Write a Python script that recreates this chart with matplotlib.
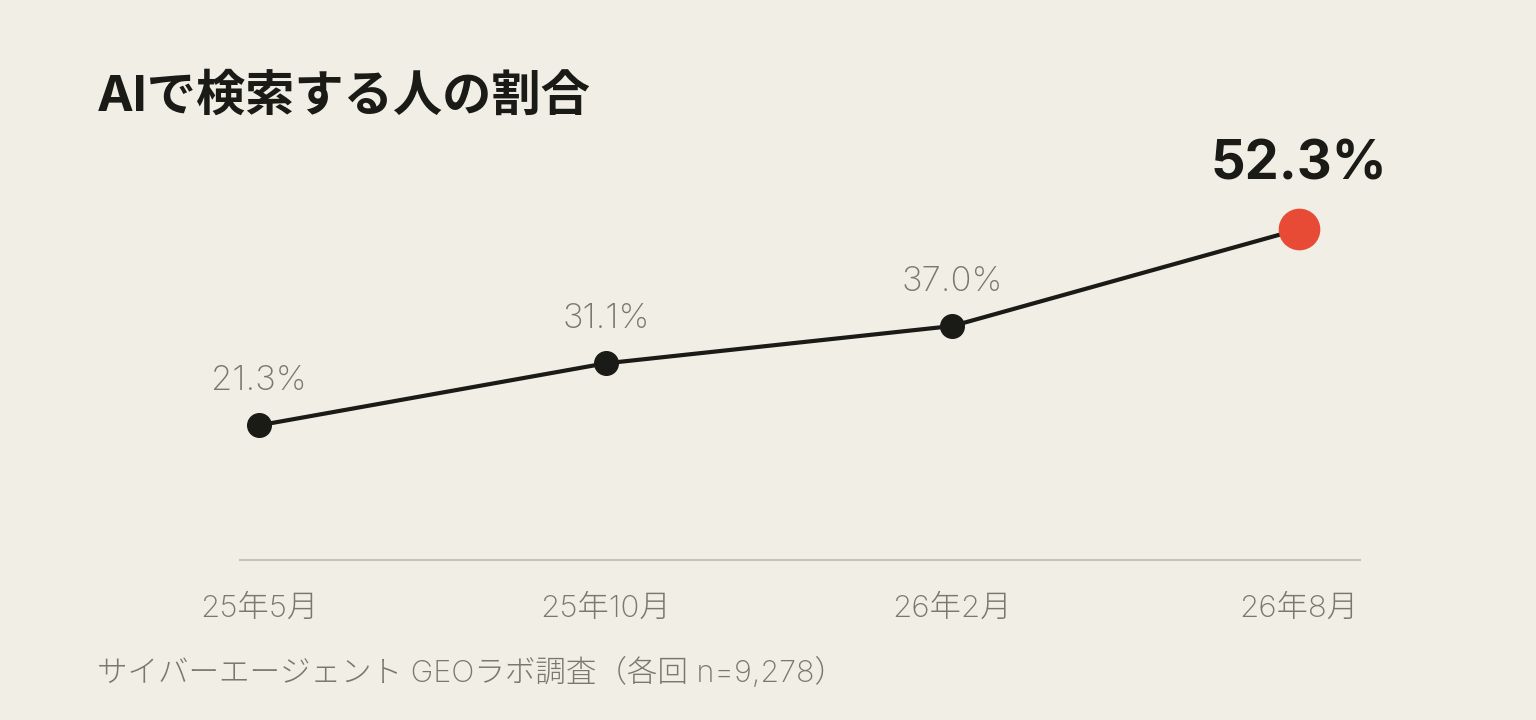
import matplotlib
matplotlib.use("Agg")
import matplotlib.pyplot as plt

# latin glyphs from Inter, kana/kanji fall back to Noto CJK
plt.rcParams['font.family'] = ['Inter', 'Noto Sans CJK JP', 'DejaVu Sans']

# data
periods = ['25年5月', '25年10月', '26年2月', '26年8月']
share = [21.3, 31.1, 37.0, 52.3]
value_labels = ['21.3%', '31.1%', '37.0%', '52.3%']

title = 'AIで検索する人の割合'
source = 'サイバーエージェント GEOラボ調査（各回 n=9,278）'

bg = '#F1EFE5'
ink = '#1A1A16'
grey = '#7A776E'
accent = '#E84B35'

W, H = 1536, 720
fig = plt.figure(figsize=(W / 100, H / 100), dpi=100, facecolor=bg)

# axes box in pixels: left 240, right 1360, baseline 560, top 130
ax = fig.add_axes([240 / W, 1 - 560 / H, 1120 / W, 430 / H])
ax.set_facecolor(bg)
x = list(range(len(periods)))
ax.set_xlim(-0.055, 3.176)
ax.set_ylim(0, 68.0)

ax.plot(x, share, color=ink, lw=3, zorder=2, solid_capstyle='round')
ax.plot(x[:-1], share[:-1], 'o', color=ink, ms=17, zorder=3)
ax.plot(x[-1], share[-1], 'o', color=accent, ms=29, zorder=3)

for i, (v, lab) in enumerate(zip(share, value_labels)):
    if i == len(share) - 1:
        ax.annotate(lab, (i, v), xytext=(0, 46), textcoords='offset points',
                    ha='center', va='center', fontsize=39, fontweight='bold', color=ink)
    else:
        ax.annotate(lab, (i, v), xytext=(0, 32), textcoords='offset points',
                    ha='center', va='center', fontsize=25, fontweight='light', color=grey)

for s in ['top', 'right', 'left']:
    ax.spines[s].set_visible(False)
ax.spines['bottom'].set_color('#C6C3B9')
ax.spines['bottom'].set_linewidth(1.5)
ax.set_yticks([])
ax.set_xticks(x)
ax.set_xticklabels(periods, fontsize=22.5, fontweight='light', color=grey)
ax.tick_params(axis='x', length=0, pad=25)

fig.text(97 / W, 1 - 97 / H, title, fontsize=35.5, fontweight='bold', color=ink,
         ha='left', va='center')
fig.text(97 / W, 1 - 672 / H, source, fontsize=22, fontweight='light', color=grey,
         ha='left', va='center')

fig.savefig('out.png', dpi=100, facecolor=bg)
